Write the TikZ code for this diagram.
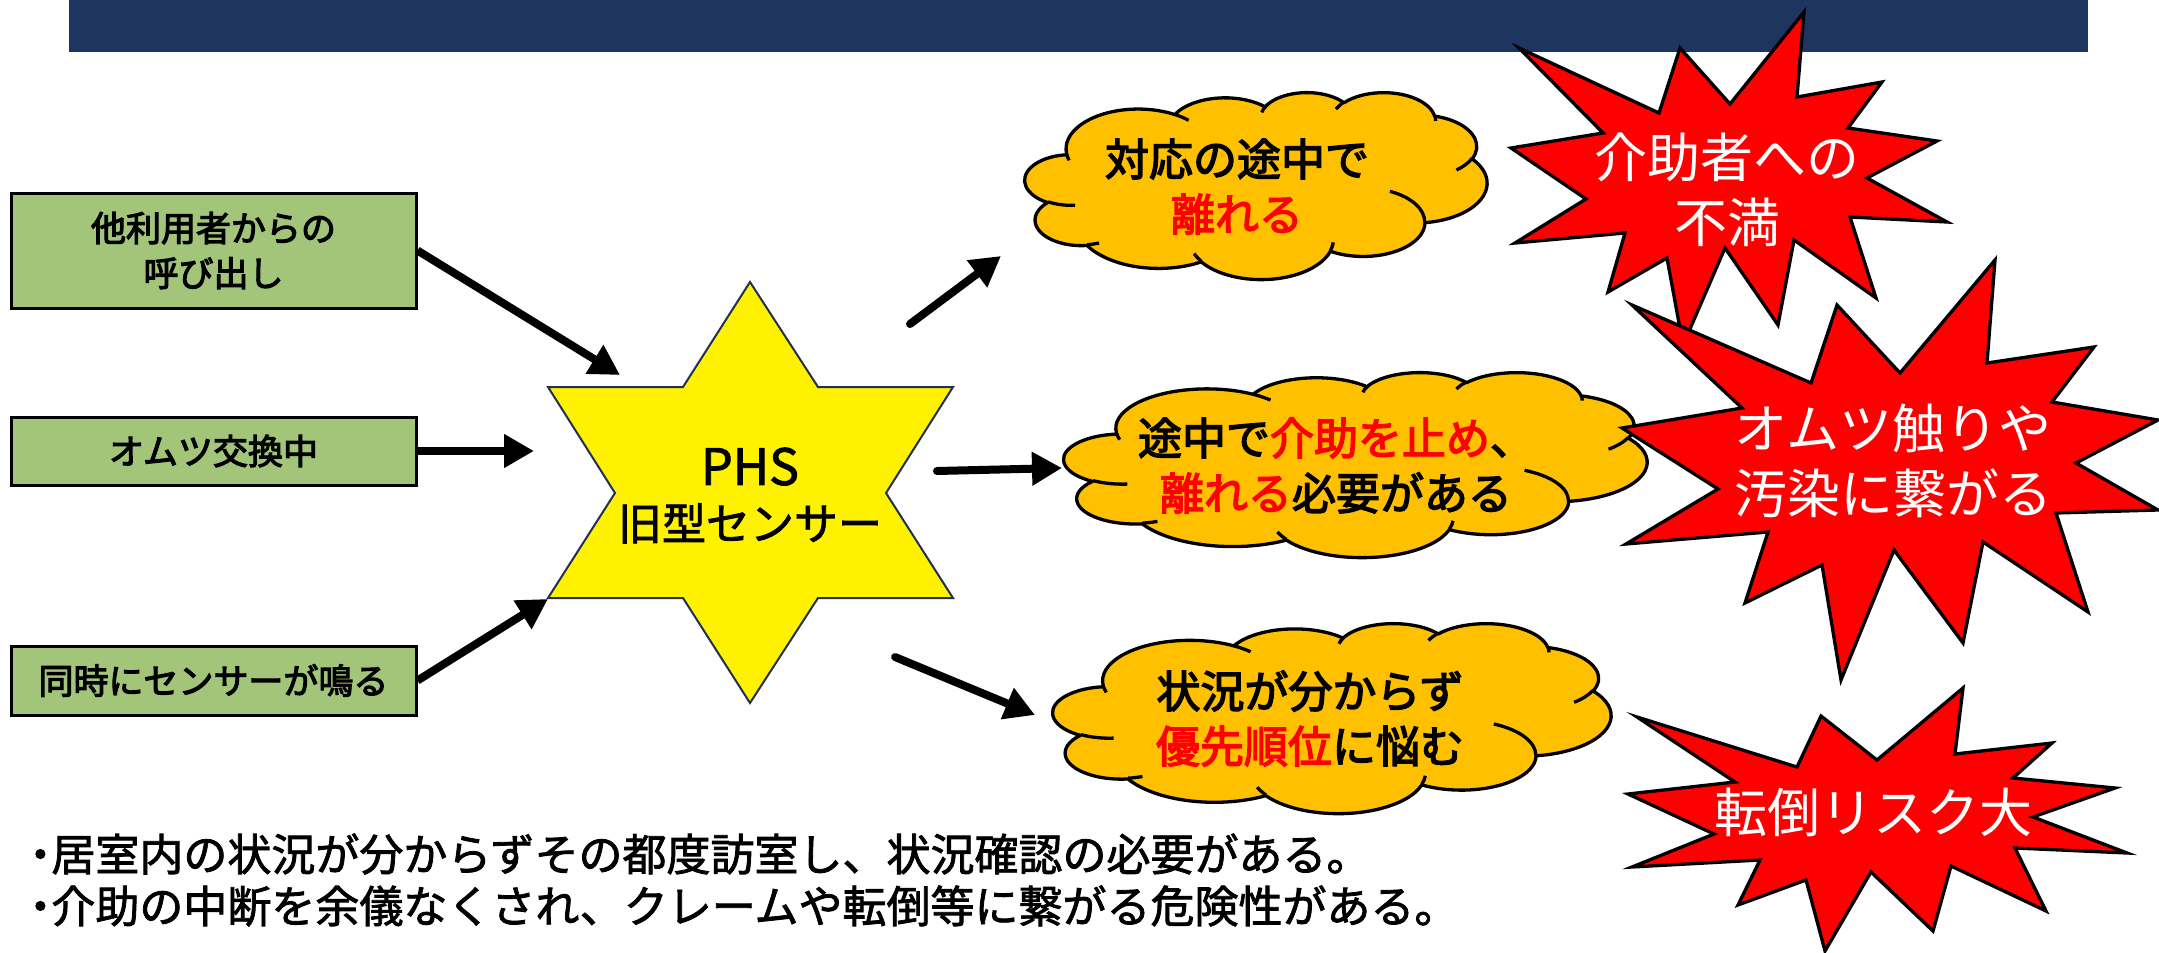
\documentclass[tikz,border=0pt]{standalone}
\usepackage{fontspec}
\usetikzlibrary{arrows.meta}
\newfontfamily\jp{Noto Sans CJK JP}
\newfontfamily\jpm{Noto Sans CJK JP}[FakeBold=3.2]
\newfontfamily\jps{Noto Sans CJK JP}[FakeBold=1.8]
\definecolor{bannerblue}{RGB}{30,53,96}
\definecolor{boxgreen}{RGB}{162,197,122}
\definecolor{cloudorange}{RGB}{255,192,0}
\definecolor{starnavy}{RGB}{32,48,84}
\definecolor{boomred}{RGB}{255,0,0}
\tikzset{
  parc/.style n args={4}{insert path={arc[start angle={vis(#3,#1,#2)},end angle={vis(#3+#4,#1,#2)},x radius=#1,y radius=#2]}},
  cloudsty/.style={draw=black,line width=1.65pt,line join=round},
  gbox/.style={draw=black,line width=1.5pt,fill=boxgreen,minimum width=202.5pt,inner sep=0pt,align=center,font=\jpm\fontsize{17.5pt}{22.5pt}\selectfont},
  arrsty/.style={line width=4pt,-{Triangle[length=15pt,width=16pt]}},
  arrcap/.style={arrsty,line cap=round},
  boom/.style={draw=black,line width=1.65pt,fill=boomred,line join=miter,miter limit=20},
  starsty/.style={draw=starnavy,line width=1pt,fill=yellow,line join=miter},
  cloudtext/.style={align=center,inner sep=0pt,font=\jpm\fontsize{22pt}{27.5pt}\selectfont},
  startext/.style={align=center,inner sep=0pt,font=\jps\fontsize{22pt}{27.5pt}\selectfont},
  boomtext/.style={align=center,inner sep=0pt,text=white,font=\jp\fontsize{26.5pt}{32.5pt}\selectfont},
  bnote/.style={anchor=west,inner sep=0pt,font=\jps\fontsize{22pt}{26pt}\selectfont},
}
\newcommand\pptcloud[4]{%
  \pgfmathsetmacro\cldx{#3*0.5/4320}%
  \pgfmathsetmacro\cldy{#4*0.5/4320}%
  \begin{scope}[shift={(#1,#2)},x=\cldx pt,y=-\cldy pt]
    \path[cloudsty,fill=cloudorange] (390,1437)
      [parc={675.3}{919.0}{-190.4875}{123.7805}]
      [parc={533.3}{726.7}{-144.1024}{89.9452}]
      [parc={436.5}{594.5}{-145.8079}{99.7230}]
      [parc={485.7}{659.5}{-130.9861}{117.2417}]
      [parc={533.3}{727.3}{-78.7089}{109.0269}]
      [parc={677.5}{922.0}{-46.2673}{130.2690}]
      [parc={578.5}{786.7}{0.6250}{114.0333}]
      [parc={675.2}{921.5}{22.4516}{115.1726}]
      [parc={772.0}{1054.3}{66.2426}{75.7110}]
      [parc={436.0}{591.8}{-274.9421}{146.7356}]
      [parc={434.5}{594.5}{-246.8285}{152.5189}] -- cycle;
    \path[cloudsty]
      (469.3,2617.7) [parc={434.5}{594.5}{86.7420}{26.4295}]
      (692.8,3489.9) [parc={436.0}{591.8}{73.6105}{11.4475}]
      (1647.8,3909.0) [parc={675.2}{921.5}{137.6242}{14.0811}]
      (2882.7,3475.1) [parc={675.2}{921.5}{6.4533}{15.9984}]
      (3412.9,2295.4) [parc={578.5}{786.7}{-70.2924}{70.9174}]
      (4179.8,1535.4) [parc={533.3}{727.3}{30.3180}{27.7515}]
      (3832.4,542.6) [parc={485.7}{659.5}{-13.7443}{14.8589}]
      (2907.8,395.2) [parc={485.7}{659.5}{-149.1815}{18.1954}]
      (2214.1,472.0) [parc={436.5}{594.5}{-163.4943}{17.6864}]
      (1400.0,519.2) [parc={675.3}{919.0}{-66.7070}{12.3194}]
      (412.7,1578.9) [parc={675.3}{919.0}{157.6544}{11.8582}];
  \end{scope}}
\begin{document}
\begin{tikzpicture}[x=0.5pt,y=-0.5pt,
  declare function={visz(\ang,\rx,\ry)=atan2(\rx*sin(\ang),\ry*cos(\ang));
    vis(\ang,\rx,\ry)=visz(\ang,\rx,\ry)+360*round((\ang-visz(\ang,\rx,\ry))/360);}]
\useasboundingbox (0,0) rectangle (2159,953);
\fill[white] (0,0) rectangle (2159,953);
% banner
\fill[bannerblue] (69,0) rectangle (2088,52);

% input boxes
\node[gbox,minimum height=57.5pt] (b1) at (213.5,250.5) {他利用者からの\\呼び出し};
\node[gbox,minimum height=34pt] (b2) at (213.5,451) {オムツ交換中};
\node[gbox,minimum height=34.5pt] (b3) at (213.5,680.5) {同時にセンサーが鳴る};

% hexagram
\draw[starsty] (750,282) -- (818,387) -- (953,387) -- (886,493) -- (953,598) -- (818,598)
  -- (750,703) -- (683,598) -- (548,598) -- (615,493) -- (548,387) -- (683,387) -- cycle;
\node[startext] (phs) at (750,495.5) {{\fontsize{25pt}{27.5pt}\selectfont PHS}\\旧型センサー};

% clouds
\pptcloud{1025}{92}{462}{187}
\pptcloud{1064}{372}{583}{185}
\pptcloud{1053}{623}{558}{190}
\node[cloudtext] (c1) at (1237,186.5) {対応の途中で\\\textcolor{red}{離れる}};
\node[cloudtext] (c2) at (1336,465.5) {途中で\textcolor{red}{介助を止め}、\\\textcolor{red}{離れる}必要がある};
\node[cloudtext] (c3) at (1310,718.5) {状況が分からず\\\textcolor{red}{優先順位}に悩む};

% arrows
\coordinate (t1) at (620,375);
\coordinate (t2) at (534,451);
\coordinate (t3) at (548,599);
\coordinate (s4) at (910,324);
\coordinate (t4) at (1001,256);
\coordinate (s5) at (937,471);
\coordinate (t5) at (1062,468);
\coordinate (s6) at (895,657);
\coordinate (t6) at (1035,715);
\draw[arrsty] (b1.east) -- (t1);
\draw[arrsty] (b2.east) -- (t2);
\draw[arrsty] (b3.east) -- (t3);
\draw[arrcap] (s4) -- (t4);
\draw[arrcap] (s5) -- (t5);
\draw[arrcap] (s6) -- (t6);

% explosions
\draw[boom] (1519,48) -- (1659,113) -- (1680,48) -- (1730,104) -- (1804,12) -- (1797,97)
  -- (1882,82) -- (1848,128) -- (1937,141) -- (1867,178) -- (1947,222) -- (1850,217)
  -- (1876,298) -- (1794,240) -- (1778,325) -- (1725,248) -- (1683,345) -- (1667,258)
  -- (1608,292) -- (1625,233) -- (1515,243) -- (1586,199) -- (1511,148) -- (1603,133) -- cycle;
\draw[boom] (1632,305) -- (1811,383) -- (1837,305) -- (1900,373) -- (1995,260) -- (1987,363)
  -- (2094,347) -- (2052,402) -- (2158,420) -- (2076,463) -- (2158,510) -- (2056,513)
  -- (2088,612) -- (1983,542) -- (1963,643) -- (1894,550) -- (1841,680) -- (1822,565)
  -- (1745,603) -- (1768,532) -- (1626,544) -- (1718,489) -- (1622,428) -- (1742,408) -- cycle;
\draw[boom] (1637,717) -- (1797,767) -- (1821,716) -- (1877,760) -- (1963,688) -- (1955,754)
  -- (2052,743) -- (2013,778) -- (2115,788) -- (2033,817) -- (2127,853) -- (2015,848)
  -- (2046,911) -- (1951,866) -- (1933,931) -- (1871,872) -- (1825,951) -- (1806,880)
  -- (1738,905) -- (1760,860) -- (1632,867) -- (1714,834) -- (1628,794) -- (1735,782) -- cycle;
\node[boomtext] (e1) at (1727,190) {介助者への\\不満};
\node[boomtext] (e2) at (1893,460.5) {オムツ触りや\\汚染に繋がる};
\node[boomtext] (e3) at (1873,812) {転倒リスク大};

% notes
\node[bnote] (n1) at (29,854) {\makebox[11pt][c]{・}居室内の状況が分からずその都度訪室し、状況確認の必要がある。};
\node[bnote] (n2) at (29,906) {\makebox[11pt][c]{・}介助の中断を余儀なくされ、クレームや転倒等に繋がる危険性がある。};
\end{tikzpicture}
\end{document}
